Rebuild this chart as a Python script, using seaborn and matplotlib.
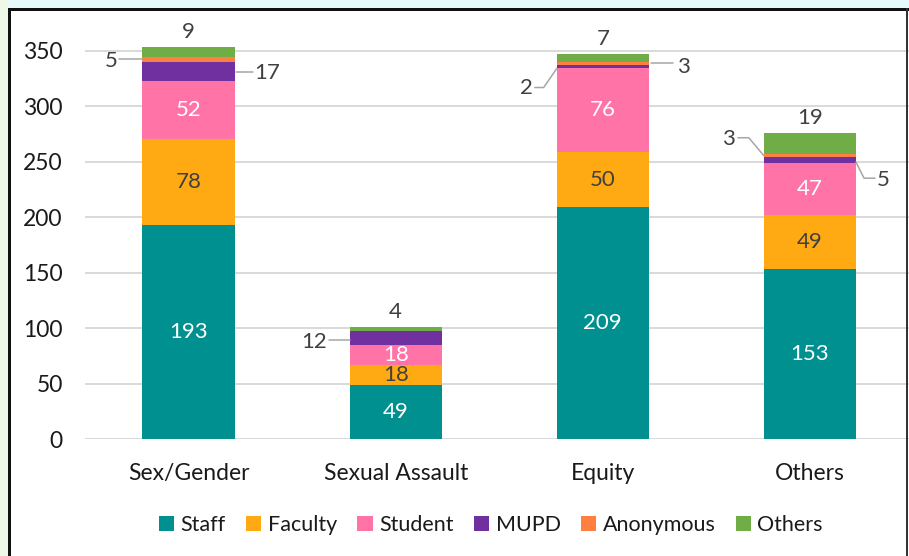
import matplotlib
matplotlib.use("Agg")
import matplotlib.pyplot as plt
import seaborn as sns
import numpy as np
from matplotlib.patches import Patch, Rectangle
from matplotlib.lines import Line2D

# ======================================
# DATA
# ======================================
categories = ["Sex/Gender", "Sexual Assault", "Equity", "Others"]
series_names = ["Staff", "Faculty", "Student", "MUPD", "Anonymous", "Others"]

staff = [193, 49, 209, 153]
faculty = [78, 18, 50, 49]
student = [52, 18, 76, 47]
mupd = [17, 12, 2, 5]
anonymous = [5, 0, 3, 3]
others = [9, 4, 7, 19]

yticks = [0, 50, 100, 150, 200, 250, 300, 350]

# ======================================
# STYLE
# ======================================
colors = ["#009090", "#FFAA12", "#FF73A6", "#7030A0", "#FF7F41", "#70AD47"]
inside_text = ["white", "#404040", "white"]
W, H = 909, 556
BAR_WIDTH = 0.445

sns.set_theme(style="white")
plt.rcParams["font.family"] = ["Lato", "DejaVu Sans"]

fig = plt.figure(figsize=(W / 100, H / 100), dpi=100)
fig.patch.set_facecolor("white")

# axes placed in pixel terms (image y runs downward)
ax_left, ax_right = 85, 913.5
ax_bottom, ax_top = 439, 28.8
ax = fig.add_axes([ax_left / W, (H - ax_bottom) / H,
                   (ax_right - ax_left) / W, (ax_bottom - ax_top) / H])

# ======================================
# STACKED BARS (cumulative, drawn top layer first)
# ======================================
layers = [staff, faculty, student, mupd, anonymous, others]
cum = np.cumsum(np.array(layers), axis=0)

for k in range(len(layers) - 1, -1, -1):
    sns.barplot(x=categories, y=cum[k], color=colors[k], saturation=1,
                width=BAR_WIDTH, linewidth=0, ax=ax, zorder=3)

ax.set_xlim(-0.5, 3.5)
ax.set_ylim(0, 370)
ax.set_yticks(yticks)
ax.yaxis.grid(True, color="#D9D9D9", linewidth=1.4, zorder=0)
ax.xaxis.grid(False)
ax.set_axisbelow(True)
for s in ax.spines.values():
    s.set_visible(False)
ax.tick_params(axis="y", length=0, pad=16, labelsize=16.5, labelcolor="#1a1a1a")
ax.tick_params(axis="x", length=0, pad=17, labelsize=16.5, labelcolor="#1a1a1a")
ax.set_xlabel("")
ax.set_ylabel("")

# ======================================
# LABELS
# ======================================
LABEL_SIZE = 16
GRAY = "#404040"

# inside labels for Staff, Faculty, Student
for k in range(3):
    for i, v in enumerate(layers[k]):
        base = cum[k][i] - v
        ax.text(i, base + v / 2, str(v), ha="center", va="center",
                color=inside_text[k], fontsize=LABEL_SIZE, zorder=5)

# Others label above bar top
for i, v in enumerate(others):
    x_disp, y_disp = ax.transData.transform((i, cum[5][i]))
    ax.text(x_disp, y_disp + 15, str(v), ha="center", va="center",
            color=GRAY, fontsize=LABEL_SIZE, transform=None)

# small segments with leader lines: (category, layer, side, path offsets px, text offset px)
# offsets in image pixels, y downward
callouts = [
    (0, 4, "left", [(0, 0), (-23, 0)], (-25, 2)),
    (0, 3, "right", [(1, 1), (18, 1)], (20, 2)),
    (1, 3, "left", [(0, 2), (-21, 2)], (-23, 4)),
    (2, 3, "left", [(0, 2), (-13, 21), (-22, 21)], (-24, 22)),
    (2, 4, "right", [(2, -1), (24, -1)], (28, 3)),
    (3, 4, "left", [(0, 0), (-15, -18), (-26, -18)], (-29, -17)),
    (3, 3, "right", [(0, 2), (8, 18), (19, 18)], (21, 20)),
]

for i, k, side, path, (tx, ty) in callouts:
    v = layers[k][i]
    y_mid = cum[k][i] - v / 2
    edge = i - BAR_WIDTH / 2 if side == "left" else i + BAR_WIDTH / 2
    x0, y0 = ax.transData.transform((edge, y_mid))
    xs = [x0 + dx for dx, dy in path]
    ys = [y0 - dy for dx, dy in path]
    fig.add_artist(Line2D(xs, ys, color="#A6A6A6", linewidth=1.1,
                          transform=None, zorder=6))
    fig.text((x0 + tx) / W, (y0 - ty) / H, str(v), color=GRAY,
             fontsize=LABEL_SIZE, ha="right" if side == "left" else "left",
             va="center")

# ======================================
# LEGEND
# ======================================
handles = [Patch(facecolor=c, edgecolor="none", label=n)
           for c, n in zip(colors, series_names)]
fig.legend(handles=handles, loc="center", ncol=6,
           bbox_to_anchor=(491 / W, (H - 525) / H), frameon=False,
           fontsize=15.5, handlelength=0.7, handleheight=0.7,
           handletextpad=0.3, columnspacing=0.95, labelcolor="#1a1a1a")

# ======================================
# FRAME / BACKGROUND STRIPS
# ======================================
def px_rect(x0, y0, x1, y1, color, z):
    fig.add_artist(Rectangle((x0 / W, 1 - y1 / H), (x1 - x0) / W, (y1 - y0) / H,
                             transform=fig.transFigure, facecolor=color,
                             edgecolor="none", zorder=z))

px_rect(8, 0, W, 8, "#E4FAFC", 10)
px_rect(0, 0, 8, H, "#EFF8E6", 10)
px_rect(8, 8, W, 11, "#111111", 11)
px_rect(8, 8, 11, H, "#111111", 11)
px_rect(906, 8, 908, H, "#333333", 11)

fig.savefig("out.png", dpi=100, facecolor=fig.get_facecolor())
